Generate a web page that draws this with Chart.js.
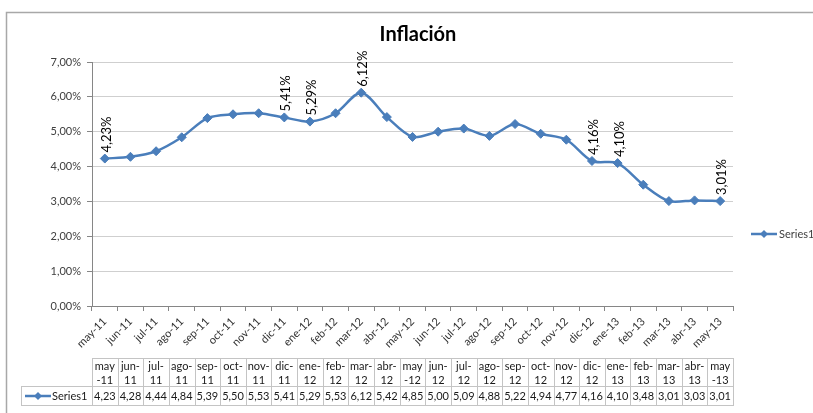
<!DOCTYPE html>
<html>
<head>
<meta charset="utf-8">
<title>Inflación</title>
<script src="https://cdn.jsdelivr.net/npm/chart.js@4/dist/chart.umd.min.js"></script>
<style>
  html, body { margin: 0; padding: 0; background: #ffffff; }
  #wrap { position: relative; width: 813px; height: 413px; }
</style>
</head>
<body>
<div id="wrap"><canvas id="chart" width="813" height="413"></canvas></div>
<script>
// Monthly inflation rate (%), May 2011 – May 2013
const months = [
  'may-11', 'jun-11', 'jul-11', 'ago-11', 'sep-11', 'oct-11', 'nov-11', 'dic-11',
  'ene-12', 'feb-12', 'mar-12', 'abr-12', 'may-12', 'jun-12', 'jul-12', 'ago-12',
  'sep-12', 'oct-12', 'nov-12', 'dic-12', 'ene-13', 'feb-13', 'mar-13', 'abr-13', 'may-13'
];
const inflation = [
  4.23, 4.28, 4.44, 4.84, 5.39, 5.50, 5.53, 5.41,
  5.29, 5.53, 6.12, 5.42, 4.85, 5.00, 5.09, 4.88,
  5.22, 4.94, 4.77, 4.16, 4.10, 3.48, 3.01, 3.03, 3.01
];
const yTicks = [0, 1, 2, 3, 4, 5, 6, 7];
// Months whose value is written next to the point
const labeledMonths = ['may-11', 'dic-11', 'ene-12', 'mar-12', 'dic-12', 'ene-13', 'may-13'];
const seriesName = 'Series1';
const chartTitle = 'Inflación';

const BLUE = '#4a7ebb';
const FONT = 'Lato, "Liberation Sans", sans-serif';
const AXIS = '#868686';
const GRID = '#cfcfcf';
const CELL = '#c4c4c4';

const comma2 = v => v.toFixed(2).replace('.', ',');

// Line segment with a diamond in the middle, used for legend keys
function seriesKey(ctx, x, y) {
  ctx.save();
  ctx.strokeStyle = BLUE;
  ctx.lineWidth = 2.5;
  ctx.beginPath();
  ctx.moveTo(x - 13, y);
  ctx.lineTo(x + 13, y);
  ctx.stroke();
  ctx.fillStyle = BLUE;
  ctx.beginPath();
  ctx.moveTo(x, y - 4);
  ctx.lineTo(x + 4, y);
  ctx.lineTo(x, y + 4);
  ctx.lineTo(x - 4, y);
  ctx.closePath();
  ctx.fill();
  ctx.restore();
}

// 'may-' is too wide for a cell, so it wraps before the hyphen
function splitMonth(label) {
  const [m, y] = label.split('-');
  return m === 'may' ? [m, '-' + y] : [m + '-', y];
}

const framePlugin = {
  id: 'frame',
  beforeDraw(chart) {
    const ctx = chart.ctx;
    ctx.save();
    ctx.fillStyle = '#ffffff';
    ctx.fillRect(0, 0, chart.width, chart.height);
    ctx.strokeStyle = '#a8a8a8';
    ctx.lineWidth = 1.5;
    ctx.beginPath();
    ctx.moveTo(chart.width, 12.5);
    ctx.lineTo(6.5, 12.5);
    ctx.lineTo(6.5, chart.height);
    ctx.stroke();
    // title
    ctx.fillStyle = '#000000';
    ctx.font = 'bold 20px ' + FONT;
    ctx.textAlign = 'center';
    ctx.textBaseline = 'middle';
    ctx.fillText(chartTitle, 418, 35);
    ctx.restore();
  }
};

const valueLabelPlugin = {
  id: 'valueLabels',
  afterDatasetsDraw(chart) {
    const ctx = chart.ctx;
    const meta = chart.getDatasetMeta(0);
    ctx.save();
    ctx.fillStyle = '#000000';
    ctx.font = '13px ' + FONT;
    ctx.textAlign = 'left';
    ctx.textBaseline = 'middle';
    labeledMonths.forEach(m => {
      const i = months.indexOf(m);
      const pt = meta.data[i];
      ctx.save();
      ctx.translate(pt.x + 2, pt.y - 6);
      ctx.rotate(-Math.PI / 2);
      ctx.fillText(comma2(inflation[i]) + '%', 0, 0);
      ctx.restore();
    });
    ctx.restore();
  }
};

const tablePlugin = {
  id: 'dataTable',
  afterDraw(chart) {
    const ctx = chart.ctx;
    const xs = chart.scales.x;
    const half = (xs.getPixelForValue(1) - xs.getPixelForValue(0)) / 2;
    const top = 358.5, mid = 386.5, bot = 405.5, legLeft = 21.5;
    ctx.save();
    ctx.strokeStyle = CELL;
    ctx.lineWidth = 1;
    ctx.fillStyle = '#1a1a1a';
    ctx.font = '11px ' + FONT;
    ctx.textAlign = 'center';
    ctx.textBaseline = 'middle';
    months.forEach((m, i) => {
      const cx = xs.getPixelForValue(i);
      const l = Math.round(cx - half) + 0.5;
      const r = Math.round(cx + half) + 0.5;
      ctx.strokeRect(l, top, r - l, mid - top);
      ctx.strokeRect(l, mid, r - l, bot - mid);
      const [a, b] = splitMonth(m);
      ctx.fillText(a, cx, 366.5);
      ctx.fillText(b, cx, 380.5);
      ctx.fillText(comma2(inflation[i]), cx, 396.5);
    });
    const first = Math.round(xs.getPixelForValue(0) - half) + 0.5;
    ctx.strokeRect(legLeft, mid, first - legLeft, bot - mid);
    seriesKey(ctx, 38, 396);
    ctx.textAlign = 'left';
    ctx.fillText(seriesName, 52, 396.5);

    // legend at the right side
    seriesKey(ctx, 764, 234);
    ctx.fillStyle = '#404040';
    ctx.fillText(seriesName, 779, 234.5);
    ctx.restore();
  }
};

new Chart(document.getElementById('chart'), {
  type: 'line',
  data: {
    labels: months,
    datasets: [{
      label: seriesName,
      data: inflation,
      borderColor: BLUE,
      backgroundColor: BLUE,
      borderWidth: 2.5,
      tension: 0.3,
      pointStyle: 'rectRot',
      pointRadius: 4.5,
      pointHoverRadius: 4.5,
      pointBackgroundColor: BLUE,
      pointBorderColor: BLUE,
      pointBorderWidth: 1
    }]
  },
  options: {
    responsive: false,
    animation: false,
    devicePixelRatio: 1,
    layout: { padding: { left: 0, right: 80, top: 62, bottom: 59 } },
    plugins: {
      legend: { display: false },
      title: { display: false },
      tooltip: { enabled: false }
    },
    scales: {
      x: {
        type: 'category',
        offset: true,
        grid: {
          offset: true,
          drawOnChartArea: false,
          drawTicks: true,
          tickLength: 5,
          tickColor: AXIS
        },
        border: { display: true, color: AXIS, width: 1 },
        ticks: {
          autoSkip: false,
          minRotation: 45,
          maxRotation: 45,
          padding: 4,
          color: '#333333',
          font: { family: FONT, size: 11 }
        },
        afterFit(scale) { scale.height = 48; }
      },
      y: {
        min: yTicks[0],
        max: yTicks[yTicks.length - 1],
        afterBuildTicks(scale) { scale.ticks = yTicks.map(v => ({ value: v })); },
        grid: {
          color: GRID,
          lineWidth: 1,
          drawTicks: true,
          tickLength: 5,
          tickColor: AXIS
        },
        border: { display: true, color: AXIS, width: 1 },
        ticks: {
          padding: 6,
          color: '#404040',
          font: { family: FONT, size: 11 },
          callback: v => comma2(v) + '%'
        },
        afterFit(scale) { scale.width = 92; }
      }
    }
  },
  plugins: [framePlugin, valueLabelPlugin, tablePlugin]
});
</script>
</body>
</html>
